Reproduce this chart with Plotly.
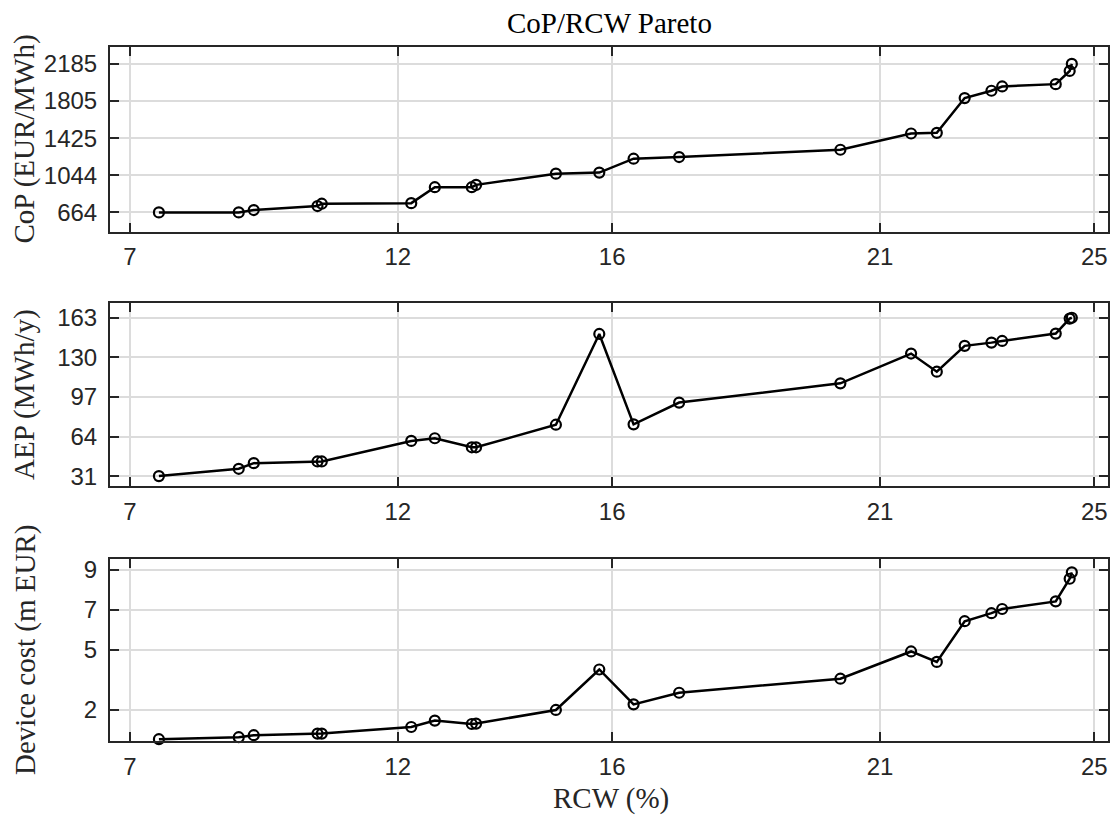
import plotly.graph_objects as go

# ---- data ----
rcw = [7.54, 9.03, 9.31, 10.50, 10.58, 12.25, 12.69, 13.38, 13.46, 14.95, 15.76,
       16.40, 17.25, 20.26, 21.58, 22.06, 22.58, 23.08, 23.28, 24.28, 24.54, 24.58]
cop = [664, 664, 688, 729, 753, 759, 922, 922, 946, 1061, 1072,
       1214, 1231, 1306, 1472, 1479, 1835, 1910, 1954, 1978, 2113, 2185]
aep = [31.2, 37.3, 42.0, 43.4, 43.4, 60.5, 62.7, 55.2, 55.2, 74.0, 149.5,
       74.3, 92.4, 108.4, 133.2, 118.1, 139.6, 142.3, 143.7, 149.8, 162.3, 163.0]
cost = [0.54, 0.64, 0.74, 0.82, 0.82, 1.15, 1.47, 1.30, 1.32, 2.00, 4.02,
        2.28, 2.86, 3.56, 4.92, 4.40, 6.43, 6.83, 7.04, 7.42, 8.55, 8.87]

x_ticks = [7, 12, 16, 21, 25]
cop_ticks = [664, 1044, 1425, 1805, 2185]
aep_ticks = [31, 64, 97, 130, 163]
cost_ticks = [2, 5, 7, 9]

title_text = "CoP/RCW Pareto"
x_label = "RCW (%)"
y_labels = ["CoP (EUR/MWh)", "AEP (MWh/y)", "Device cost (m EUR)"]

W, H = 1116, 819
AX = "#262626"
GRID = "#dcdcdc"
TICKFONT = dict(family="Liberation Sans, Arial, sans-serif", size=24, color=AX)
LABFONT = dict(family="Liberation Serif, Times New Roman, serif", size=29, color=AX)

xdom = [110 / W, 1108.3 / W]
boxes = [(45.7, 231.0), (303.3, 487.3), (560.0, 744.0)]  # top, bottom in px
ydoms = [[1 - b / H, 1 - t / H] for t, b in boxes]
yranges = [[467.5, 2354], [22.7, 174.9], [0.428, 9.556]]
yticks = [cop_ticks, aep_ticks, cost_ticks]
ydata = [cop, aep, cost]

fig = go.Figure()
layout = dict(
    width=W, height=H,
    margin=dict(l=0, r=0, t=0, b=0),
    paper_bgcolor="white", plot_bgcolor="white",
    showlegend=False,
)

annotations = []
for i in range(3):
    sfx = "" if i == 0 else str(i + 1)
    fig.add_trace(go.Scatter(
        x=rcw, y=ydata[i], mode="lines+markers",
        line=dict(color="black", width=2.5),
        marker=dict(symbol="circle-open", size=10, color="black",
                    line=dict(color="black", width=2.2)),
        xaxis="x" + sfx, yaxis="y" + sfx, cliponaxis=False,
    ))
    common = dict(
        showline=True, linecolor=AX, linewidth=2, mirror="ticks",
        ticks="inside", ticklen=9, tickwidth=2, tickcolor=AX,
        showgrid=True, gridcolor=GRID, gridwidth=1.5,
        zeroline=False, tickfont=TICKFONT,
    )
    layout["xaxis" + sfx] = dict(
        domain=xdom, range=[6.627, 25.261], anchor="y" + sfx,
        tickmode="array", tickvals=x_ticks, ticktext=[str(v) for v in x_ticks],
        ticklabelstandoff=3, **common)
    layout["yaxis" + sfx] = dict(
        domain=ydoms[i], range=yranges[i], anchor="x" + sfx,
        tickmode="array", tickvals=yticks[i], ticktext=[str(v) for v in yticks[i]],
        ticklabelstandoff=6, **common)
    t, b = boxes[i]
    annotations.append(dict(
        text=y_labels[i], textangle=-90, showarrow=False,
        xref="paper", yref="paper", x=25 / W, y=1 - (t + b) / 2 / H,
        xanchor="center", yanchor="middle", font=LABFONT))

annotations.append(dict(
    text=title_text, showarrow=False, xref="paper", yref="paper",
    x=609 / W, y=1 - 21 / H, xanchor="center", yanchor="middle",
    font=dict(family=LABFONT["family"], size=29, color="black")))
annotations.append(dict(
    text=x_label, showarrow=False, xref="paper", yref="paper",
    x=611 / W, y=1 - 801 / H, xanchor="center", yanchor="middle", font=LABFONT))

layout["annotations"] = annotations
fig.update_layout(**layout)
fig.write_html("out.html")
